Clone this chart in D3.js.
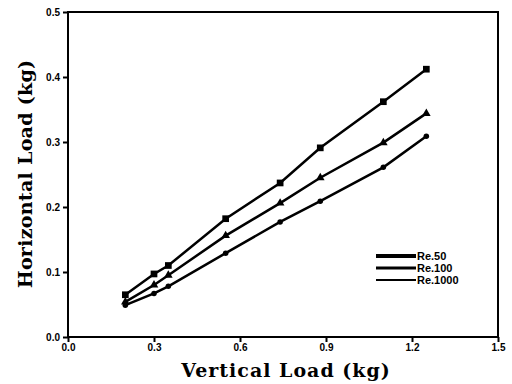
<!DOCTYPE html>
<html>
<head>
<meta charset="utf-8">
<script src="https://cdn.jsdelivr.net/npm/d3@7"></script>
<style>
  body { margin: 0; background: #fff; }
  svg { display: block; }
</style>
</head>
<body>
<div id="chart"></div>
<script>
const verticalLoad = [0.2, 0.3, 0.35, 0.55, 0.74, 0.88, 1.1, 1.25];
const re50 = [0.065, 0.097, 0.110, 0.182, 0.237, 0.291, 0.362, 0.412];
const re100 = [0.054, 0.080, 0.095, 0.156, 0.206, 0.245, 0.299, 0.344];
const re1000 = [0.049, 0.067, 0.078, 0.129, 0.177, 0.209, 0.261, 0.309];
const seriesNames = ["Re.50", "Re.100", "Re.1000"];
const xTicks = [0.0, 0.3, 0.6, 0.9, 1.2, 1.5];
const yTicks = [0.0, 0.1, 0.2, 0.3, 0.4, 0.5];

const width = 512, height = 384;
const margin = { top: 12, right: 14, bottom: 47, left: 68 };

const svg = d3.select("#chart").append("svg")
    .attr("width", width)
    .attr("height", height);

const x = d3.scaleLinear().domain([0, 1.5]).range([margin.left, width - margin.right]);
const y = d3.scaleLinear().domain([0, 0.5]).range([height - margin.bottom, margin.top]);

// frame
svg.append("rect")
    .attr("x", x(0)).attr("y", y(0.5))
    .attr("width", x(1.5) - x(0)).attr("height", y(0) - y(0.5))
    .attr("fill", "none").attr("stroke", "#000").attr("stroke-width", 2);

const tickFont = "bold 10px 'Liberation Sans', Arial, sans-serif";

const xAxis = svg.append("g")
    .attr("transform", `translate(0,${y(0)})`)
    .call(d3.axisBottom(x).tickValues(xTicks).tickFormat(d3.format(".1f")).tickSize(5).tickPadding(2));
const yAxis = svg.append("g")
    .attr("transform", `translate(${x(0)},0)`)
    .call(d3.axisLeft(y).tickValues(yTicks).tickFormat(d3.format(".1f")).tickSize(5).tickPadding(3));

[xAxis, yAxis].forEach(a => {
    a.select(".domain").remove();
    a.selectAll("line").attr("stroke", "#000").attr("stroke-width", 2);
    a.selectAll("text").style("font", tickFont).attr("fill", "#000");
});

const series = [
    { name: seriesNames[0], values: re50, shape: d3.symbolSquare, size: 45 },
    { name: seriesNames[1], values: re100, shape: d3.symbolTriangle, size: 32 },
    { name: seriesNames[2], values: re1000, shape: d3.symbolCircle, size: 24 }
];

const line = d3.line()
    .x(d => x(d[0]))
    .y(d => y(d[1]));

series.forEach(s => {
    const pts = verticalLoad.map((v, i) => [v, s.values[i]]);
    svg.append("path")
        .datum(pts)
        .attr("fill", "none")
        .attr("stroke", "#000")
        .attr("stroke-width", 2.5)
        .attr("d", line);
    svg.selectAll(null)
        .data(pts)
        .enter()
        .append("path")
        .attr("transform", d => `translate(${x(d[0])},${y(d[1])})`)
        .attr("d", d3.symbol().type(s.shape).size(s.size))
        .attr("fill", "#000");
});

// legend
const legend = svg.append("g").attr("transform", "translate(376,256)");
series.forEach((s, i) => {
    const g = legend.append("g").attr("transform", `translate(0,${i * 12})`);
    g.append("line")
        .attr("x1", 0).attr("x2", 40)
        .attr("stroke", "#000").attr("stroke-width", 4 - i);
    g.append("text")
        .attr("x", 41).attr("y", 4)
        .style("font", "bold 11px 'Liberation Sans', Arial, sans-serif")
        .text(s.name);
});

// axis titles
svg.append("text")
    .attr("x", 286).attr("y", 377)
    .attr("text-anchor", "middle")
    .style("font", "bold 19px 'DejaVu Serif', serif")
    .style("letter-spacing", "1px")
    .text("Vertical Load (kg)");

svg.append("text")
    .attr("transform", "translate(32,174) rotate(-90)")
    .attr("text-anchor", "middle")
    .style("font", "bold 19px 'DejaVu Serif', serif")
    .style("letter-spacing", "0.3px")
    .text("Horizontal Load (kg)");
</script>
</body>
</html>
